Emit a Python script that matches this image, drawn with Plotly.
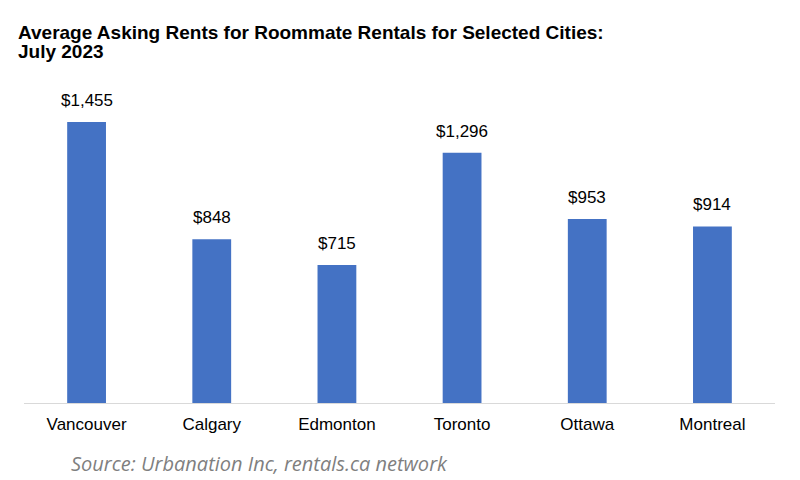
import plotly.graph_objects as go

cities = ["Vancouver", "Calgary", "Edmonton", "Toronto", "Ottawa", "Montreal"]
rents = [1455, 848, 715, 1296, 953, 914]
labels = ["$1,455", "$848", "$715", "$1,296", "$953", "$914"]
title_lines = ["Average Asking Rents for Roommate Rentals for Selected Cities:", "July 2023"]
source = "Source: Urbanation Inc, rentals.ca network"

fig = go.Figure()
fig.add_trace(go.Bar(x=cities, y=rents, marker=dict(color="#4472C4", line=dict(width=0)),
                     hoverinfo="skip"))

for c, v, t in zip(cities, rents, labels):
    fig.add_annotation(x=c, y=v, text=t, showarrow=False, yanchor="bottom", yshift=10,
                       font=dict(family="Liberation Sans, Arial", size=17, color="#000000"))

for line, shift in zip(title_lines, [56, 37]):
    fig.add_annotation(xref="paper", yref="paper", x=0, y=1, xshift=-8, yshift=shift,
                       xanchor="left", yanchor="middle", showarrow=False,
                       text="<b>" + line + "</b>",
                       font=dict(family="Liberation Sans, Arial", size=19, color="#000000"))

fig.add_annotation(xref="paper", yref="paper", x=0, y=0, xshift=45, yshift=-60,
                   xanchor="left", yanchor="middle", showarrow=False,
                   text="<i>" + source + "</i>",
                   font=dict(family="Open Sans", size=20, color="#7f7f7f"))

fig.update_layout(
    width=800, height=480,
    margin=dict(l=24, r=25, t=88, b=77),
    paper_bgcolor="white", plot_bgcolor="white",
    bargap=0.69,
    showlegend=False,
    xaxis=dict(showgrid=False, showline=True, linecolor="#d9d9d9", linewidth=1,
               tickfont=dict(family="Liberation Sans, Arial", size=17, color="#000000"),
               ticks="", ticklabelstandoff=6),
    yaxis=dict(range=[0, 1631], visible=False, showgrid=False, zeroline=False),
)

fig.write_html("out.html")
